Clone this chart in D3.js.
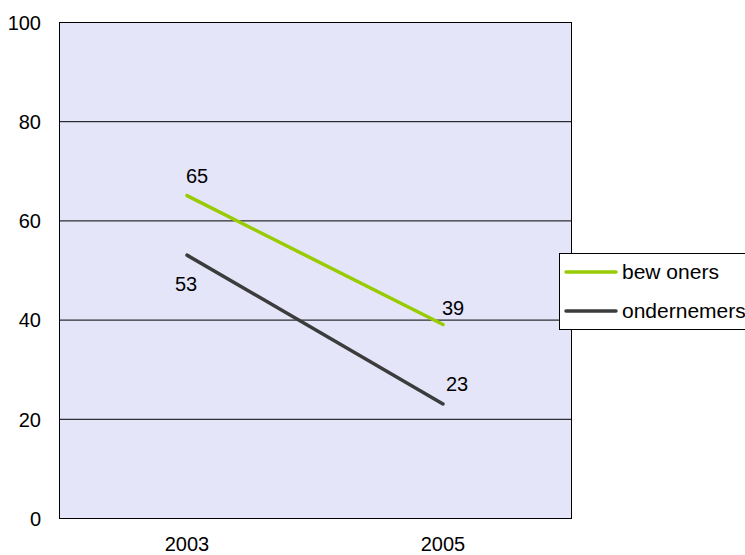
<!DOCTYPE html>
<html>
<head>
<meta charset="utf-8">
<script src="https://cdn.jsdelivr.net/npm/d3@7"></script>
<style>
  body { margin: 0; background: #fff; }
  svg text { font-family: "Liberation Sans", Arial, sans-serif; font-size: 20px; fill: #000; }
</style>
</head>
<body>
<svg id="chart" width="745" height="555"></svg>
<script>
// chart values
const years = ["2003", "2005"];
const seriesNames = ["bew oners", "ondernemers"];
const bewoners = [65, 39];
const ondernemers = [53, 23];
const yTicks = [0, 20, 40, 60, 80, 100];

const colors = ["#99cc00", "#3c3c3c"];
// where each data label sits relative to its point [dx, dy baseline]
const labelOffset = [
  [[10, -13], [10, -10]],
  [[-1, 36], [14, -13]]
];

var margin = { top: 22, left: 59, right: 174, bottom: 37 };
var w = 745 - margin.left - margin.right,
    h = 555 - margin.top - margin.bottom;

var svg = d3.select("#chart");
var g = svg.append("g").attr("transform", translation(margin.left, margin.top));

var xScale = d3.scaleBand().domain(years).range([0, w]).padding(0);
var yScale = d3.scaleLinear().domain([0, 100]).range([h, 0]);

// plot background
g.append("rect")
  .attr("width", w)
  .attr("height", h)
  .attr("fill", "#e5e5fa");

// gridlines
g.append("g")
  .selectAll("line")
  .data(yTicks.filter(d => d > 0 && d < 100))
  .enter().append("line")
    .attr("x1", 0)
    .attr("x2", w)
    .attr("y1", d => yScale(d) + 0.5)
    .attr("y2", d => yScale(d) + 0.5)
    .attr("stroke", "#000")
    .attr("stroke-width", 1);

// frame
g.append("rect")
  .attr("x", 0.5)
  .attr("y", 0.5)
  .attr("width", w)
  .attr("height", h)
  .attr("fill", "none")
  .attr("stroke", "#000")
  .attr("stroke-width", 1);

// y axis labels
var yAxis = d3.axisLeft(yScale).tickValues(yTicks).tickSize(0).tickPadding(18);
var ya = g.append("g").call(yAxis);
ya.select(".domain").remove();
ya.selectAll("text").attr("font-size", null).attr("font-family", null).attr("dy", "0.36em");

// x axis labels
var xAxis = d3.axisBottom(xScale).tickSize(0).tickPadding(19);
var xa = g.append("g").attr("transform", translation(0, h)).call(xAxis);
xa.select(".domain").remove();
xa.selectAll("text").attr("font-size", null).attr("font-family", null);

// lines
var series = [bewoners, ondernemers];
var line = d3.line()
  .x((d, i) => xScale(years[i]) + xScale.bandwidth() / 2)
  .y(d => yScale(d));

series.forEach(function(vals, s) {
  g.append("path")
    .datum(vals)
    .attr("d", line)
    .attr("fill", "none")
    .attr("stroke", colors[s])
    .attr("stroke-width", 3.5)
    .attr("stroke-linecap", "round");

  g.selectAll(".lbl" + s)
    .data(vals)
    .enter().append("text")
      .attr("class", "lbl" + s)
      .attr("text-anchor", "middle")
      .attr("x", (d, i) => xScale(years[i]) + xScale.bandwidth() / 2 + labelOffset[s][i][0])
      .attr("y", (d, i) => yScale(d) + labelOffset[s][i][1])
      .text(d => d);
});

// legend
var legend = svg.append("g").attr("transform", translation(559, 253));
legend.append("rect")
  .attr("x", 0.5)
  .attr("y", 0.5)
  .attr("width", 200)
  .attr("height", 76)
  .attr("fill", "#fff")
  .attr("stroke", "#000")
  .attr("stroke-width", 1);

seriesNames.forEach(function(name, s) {
  var ly = 19 + s * 39;
  legend.append("line")
    .attr("x1", 7)
    .attr("x2", 57)
    .attr("y1", ly)
    .attr("y2", ly)
    .attr("stroke", colors[s])
    .attr("stroke-width", 3.5)
    .attr("stroke-linecap", "round");
  legend.append("text")
    .attr("x", 63)
    .attr("y", ly + 7)
    .style("font-size", "21px")
    .text(name);
});

function translation(x, y) {
  return "translate(" + x + "," + y + ")";
}
</script>
</body>
</html>
